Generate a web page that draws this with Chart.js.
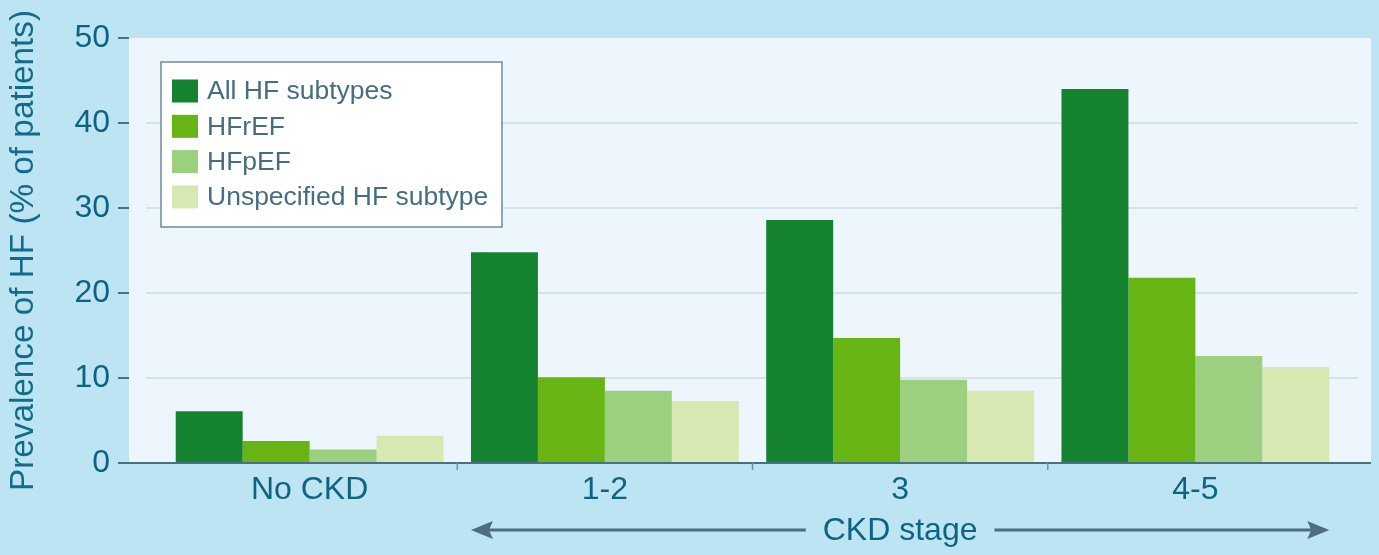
<!DOCTYPE html>
<html>
<head>
<meta charset="utf-8">
<script src="https://cdn.jsdelivr.net/npm/chart.js@4"></script>
<style>
  body { margin: 0; background: #bce4f3; }
  canvas { display: block; }
</style>
</head>
<body>
<canvas id="hfChart" width="1379" height="555"></canvas>
<script>
const categories = ['No CKD', '1-2', '3', '4-5'];
const seriesNames = ['All HF subtypes', 'HFrEF', 'HFpEF', 'Unspecified HF subtype'];
const allHF = [6.1, 24.8, 28.6, 44.0];
const hfref = [2.6, 10.1, 14.7, 21.8];
const hfpef = [1.6, 8.5, 9.8, 12.6];
const unspecified = [3.2, 7.3, 8.5, 11.3];
const yTicks = [0, 10, 20, 30, 40, 50];
const barColors = ['#158230', '#67b515', '#9ccf80', '#d8e8b2'];

const textColor = '#0e6480';
const lineColor = '#4d6d80';
const font = 'Liberation Sans, Arial, sans-serif';

// backgrounds + gridlines, drawn before the bars
const backdrop = {
  id: 'backdrop',
  beforeDraw(chart) {
    const {ctx, chartArea: a, scales: {y}} = chart;
    ctx.save();
    ctx.fillStyle = '#bce4f3';
    ctx.fillRect(0, 0, chart.width, chart.height);
    ctx.fillStyle = '#eef6fd';
    ctx.fillRect(a.left - 33, a.top, a.right - a.left + 61, a.bottom - a.top);
    ctx.strokeStyle = '#d3e3ea';
    ctx.lineWidth = 2;
    yTicks.slice(1, -1).forEach(v => {
      const py = Math.round(y.getPixelForValue(v));
      ctx.beginPath();
      ctx.moveTo(a.left - 16, py);
      ctx.lineTo(a.right + 15, py);
      ctx.stroke();
    });
    ctx.restore();
  }
};

// axis line, tick marks, legend box and the CKD stage arrow
const overlay = {
  id: 'overlay',
  afterDraw(chart) {
    const {ctx, chartArea: a, scales: {x, y}} = chart;
    ctx.save();
    // y tick dashes
    ctx.strokeStyle = lineColor;
    ctx.lineWidth = 2;
    yTicks.forEach(v => {
      const py = Math.round(y.getPixelForValue(v));
      ctx.beginPath();
      ctx.moveTo(a.left - 44, py);
      ctx.lineTo(a.left - 33, py);
      ctx.stroke();
    });
    // x axis line
    const base = y.getPixelForValue(0);
    ctx.beginPath();
    ctx.moveTo(a.left - 44, base);
    ctx.lineTo(a.right + 28, base);
    ctx.stroke();
    // category separators
    ctx.strokeStyle = '#7393a3';
    ctx.lineWidth = 1.5;
    for (let i = 1; i < categories.length; i++) {
      const px = (x.getPixelForValue(i - 1) + x.getPixelForValue(i)) / 2;
      ctx.beginPath();
      ctx.moveTo(px, base);
      ctx.lineTo(px, base + 7);
      ctx.stroke();
    }

    // legend
    const lx = a.left - 1, ly = a.top + 24;
    ctx.fillStyle = '#ffffff';
    ctx.fillRect(lx, ly, 341, 165);
    ctx.strokeStyle = '#6c8c9c';
    ctx.lineWidth = 1.5;
    ctx.strokeRect(lx, ly, 341, 165);
    ctx.font = '26.5px ' + font;
    ctx.textBaseline = 'middle';
    chart.data.datasets.forEach((ds, i) => {
      const cy = ly + 29 + i * 35.3;
      ctx.fillStyle = ds.backgroundColor;
      ctx.fillRect(lx + 11, cy - 11.5, 26, 23);
      ctx.fillStyle = '#456f80';
      ctx.fillText(ds.label, lx + 46, cy + 1);
    });

    // CKD stage arrow
    const half = x.width / categories.length * 0.907 / 2;
    const x0 = x.getPixelForValue(1) - half;
    const x1 = x.getPixelForValue(3) + half;
    const ay = 530;
    const mid = x.getPixelForValue(2);
    ctx.font = '32px ' + font;
    const label = 'CKD stage';
    const tw = ctx.measureText(label).width;
    ctx.fillStyle = textColor;
    ctx.textAlign = 'center';
    ctx.fillText(label, mid, ay + 1);
    ctx.strokeStyle = lineColor;
    ctx.fillStyle = lineColor;
    ctx.lineWidth = 3;
    ctx.beginPath();
    ctx.moveTo(x0 + 10, ay);
    ctx.lineTo(mid - tw / 2 - 17, ay);
    ctx.moveTo(mid + tw / 2 + 17, ay);
    ctx.lineTo(x1 - 10, ay);
    ctx.stroke();
    ctx.beginPath();
    ctx.moveTo(x0, ay);
    ctx.lineTo(x0 + 22, ay - 9);
    ctx.lineTo(x0 + 18, ay);
    ctx.lineTo(x0 + 22, ay + 9);
    ctx.closePath();
    ctx.fill();
    ctx.beginPath();
    ctx.moveTo(x1, ay);
    ctx.lineTo(x1 - 22, ay - 9);
    ctx.lineTo(x1 - 18, ay);
    ctx.lineTo(x1 - 22, ay + 9);
    ctx.closePath();
    ctx.fill();
    ctx.restore();
  }
};

const seriesValues = [allHF, hfref, hfpef, unspecified];

const chart = new Chart(document.getElementById('hfChart'), {
  type: 'bar',
  data: {
    labels: categories,
    datasets: seriesValues.map((vals, i) => ({
      label: seriesNames[i],
      data: vals,
      backgroundColor: barColors[i],
      borderWidth: 0,
      categoryPercentage: 0.907,
      barPercentage: 1
    }))
  },
  options: {
    responsive: false,
    animation: false,
    devicePixelRatio: 1,
    layout: { padding: { top: 38, right: 36, left: 0, bottom: 0 } },
    plugins: {
      legend: { display: false },
      tooltip: { enabled: false }
    },
    scales: {
      x: {
        grid: { display: false, drawTicks: false },
        border: { display: false },
        ticks: { color: textColor, font: { family: font, size: 32 }, padding: 8 },
        afterFit: s => { s.height = 92; }
      },
      y: {
        min: 0,
        max: 50,
        grid: { display: false, drawTicks: false },
        border: { display: false },
        ticks: { stepSize: 10, color: textColor, font: { family: font, size: 32 }, padding: 52 },
        title: {
          display: true,
          text: 'Prevalence of HF (% of patients)',
          color: '#126b88',
          font: { family: font, size: 33.3 },
          padding: { top: 4, bottom: 0 }
        },
        afterFit: s => { s.width = 162; s.paddingTop = 0; s.paddingBottom = 0; }
      }
    }
  },
  plugins: [backdrop, overlay]
});
</script>
</body>
</html>
